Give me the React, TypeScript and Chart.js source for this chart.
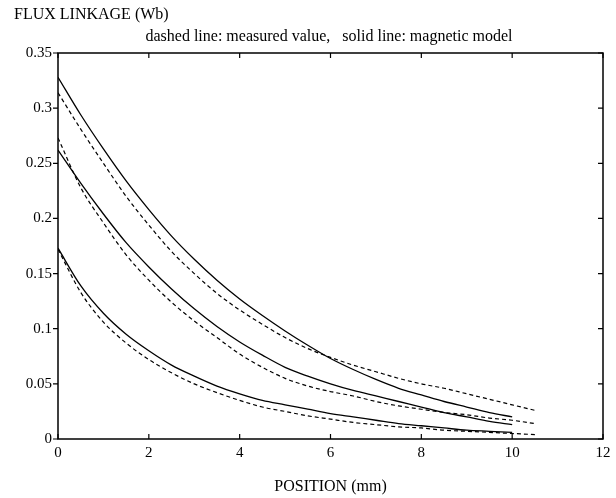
import React, { useEffect, useRef } from "react";
import { Chart, registerables } from "chart.js";

Chart.register(...registerables);

// Positions (mm)
const modelPositions = [0, 0.5, 1, 1.5, 2, 2.5, 3, 3.5, 4, 4.5, 5, 5.5, 6, 6.5, 7, 7.5, 8, 8.5, 9, 9.5, 10];
const measuredPositions = [0, 0.5, 1, 1.5, 2, 2.5, 3, 3.5, 4, 4.5, 5, 5.5, 6, 6.5, 7, 7.5, 8, 8.5, 9, 9.5, 10, 10.5];

// Flux linkage (Wb) - solid lines: magnetic model
const modelHigh = [0.328, 0.294, 0.263, 0.234, 0.208, 0.184, 0.163, 0.144, 0.127, 0.112, 0.098, 0.085, 0.073, 0.063, 0.054, 0.046, 0.040, 0.034, 0.029, 0.024, 0.020];
const modelMid = [0.262, 0.232, 0.204, 0.178, 0.156, 0.136, 0.118, 0.102, 0.088, 0.076, 0.065, 0.057, 0.050, 0.044, 0.039, 0.034, 0.029, 0.024, 0.020, 0.016, 0.013];
const modelLow = [0.173, 0.139, 0.114, 0.095, 0.080, 0.067, 0.057, 0.048, 0.041, 0.035, 0.031, 0.027, 0.023, 0.020, 0.017, 0.014, 0.012, 0.010, 0.008, 0.007, 0.006];

// Flux linkage (Wb) - dashed lines: measured value
const measuredHigh = [0.314, 0.281, 0.250, 0.220, 0.194, 0.170, 0.150, 0.132, 0.117, 0.104, 0.092, 0.082, 0.074, 0.067, 0.061, 0.055, 0.050, 0.046, 0.041, 0.036, 0.031, 0.026];
const measuredMid = [0.273, 0.228, 0.196, 0.167, 0.144, 0.124, 0.107, 0.092, 0.077, 0.065, 0.055, 0.048, 0.043, 0.039, 0.034, 0.030, 0.027, 0.024, 0.022, 0.019, 0.017, 0.014];
const measuredLow = [0.172, 0.133, 0.106, 0.087, 0.072, 0.060, 0.050, 0.042, 0.035, 0.029, 0.025, 0.021, 0.018, 0.015, 0.013, 0.011, 0.010, 0.008, 0.007, 0.006, 0.005, 0.004];

const xTicks = [0, 2, 4, 6, 8, 10, 12];
const xTickLabels = ["0", "2", "4", "6", "8", "10", "12"];
const yTicks = [0, 0.05, 0.1, 0.15, 0.2, 0.25, 0.3, 0.35];
const yTickLabels = ["0", "0.05", "0.1", "0.15", "0.2", "0.25", "0.3", "0.35"];

const yTitle = "FLUX LINKAGE (Wb)";
const subTitle = "dashed line: measured value,   solid line: magnetic model";
const xTitle = "POSITION (mm)";

const FONT = '"Liberation Serif", "DejaVu Serif", serif';

const toPoints = (xs: number[], ys: number[]) => ys.map((y, i) => ({ x: xs[i], y }));

const framePlugin = {
  id: "frame",
  afterDatasetsDraw(chart: any) {
    const { ctx, chartArea: a, scales } = chart;
    ctx.save();
    ctx.strokeStyle = "#000";
    ctx.lineWidth = 1.5;
    ctx.strokeRect(a.left, a.top, a.right - a.left, a.bottom - a.top);
    ctx.lineWidth = 1.2;
    const L = 5;
    ctx.beginPath();
    for (const v of xTicks) {
      const px = scales.x.getPixelForValue(v);
      ctx.moveTo(px, a.bottom);
      ctx.lineTo(px, a.bottom - L);
      ctx.moveTo(px, a.top);
      ctx.lineTo(px, a.top + L);
    }
    for (const v of yTicks) {
      const py = scales.y.getPixelForValue(v);
      ctx.moveTo(a.left - L, py);
      ctx.lineTo(a.left, py);
      ctx.moveTo(a.right, py);
      ctx.lineTo(a.right - L, py);
    }
    ctx.stroke();
    ctx.fillStyle = "#000";
    ctx.font = `16px ${FONT}`;
    ctx.textBaseline = "middle";
    ctx.textAlign = "left";
    ctx.fillText(yTitle, 14, 15);
    ctx.textAlign = "center";
    ctx.fillText(subTitle, 329, 37);
    ctx.restore();
  },
};

export default function App() {
  const ref = useRef<HTMLCanvasElement | null>(null);

  useEffect(() => {
    document.body.style.margin = "0";
    const canvas = ref.current;
    if (!canvas) return;
    const solid = { borderColor: "#000", borderWidth: 1.3, pointRadius: 0, fill: false, tension: 0.4, cubicInterpolationMode: "monotone" as const };
    const dashed = { ...solid, borderWidth: 1.2, borderDash: [4, 3] };
    const chart = new Chart(canvas, {
      type: "line",
      data: {
        datasets: [
          { label: "model high", data: toPoints(modelPositions, modelHigh), ...solid },
          { label: "model mid", data: toPoints(modelPositions, modelMid), ...solid },
          { label: "model low", data: toPoints(modelPositions, modelLow), ...solid },
          { label: "measured high", data: toPoints(measuredPositions, measuredHigh), ...dashed },
          { label: "measured mid", data: toPoints(measuredPositions, measuredMid), ...dashed },
          { label: "measured low", data: toPoints(measuredPositions, measuredLow), ...dashed },
        ],
      },
      options: {
        responsive: false,
        animation: false,
        layout: { padding: { left: 0, right: 13, top: 53, bottom: 0 } },
        plugins: { legend: { display: false }, tooltip: { enabled: false }, title: { display: false } },
        scales: {
          x: {
            type: "linear",
            min: 0,
            max: 12,
            grid: { display: false, drawTicks: false },
            border: { display: false },
            afterBuildTicks: (s: any) => {
              s.ticks = xTicks.map((v) => ({ value: v }));
            },
            afterFit: (s: any) => {
              s.height = 59;
            },
            ticks: {
              padding: 5,
              color: "#000",
              maxRotation: 0,
              font: { family: FONT, size: 15 },
              callback: (v: any) => xTickLabels[xTicks.indexOf(Number(v))] ?? "",
            },
            title: {
              display: true,
              text: xTitle,
              color: "#000",
              font: { family: FONT, size: 16 },
              padding: { top: 0, bottom: 2 },
            },
          },
          y: {
            type: "linear",
            min: 0,
            max: 0.35,
            grid: { display: false, drawTicks: false },
            border: { display: false },
            afterBuildTicks: (s: any) => {
              s.ticks = yTicks.map((v) => ({ value: v }));
            },
            afterFit: (s: any) => {
              s.width = 58;
            },
            ticks: {
              padding: 6,
              color: "#000",
              font: { family: FONT, size: 15 },
              callback: (v: any) => {
                const i = yTicks.findIndex((t) => Math.abs(t - Number(v)) < 1e-9);
                return i >= 0 ? yTickLabels[i] : "";
              },
            },
          },
        },
      },
      plugins: [framePlugin],
    });
    return () => chart.destroy();
  }, []);

  return (
    <div style={{ width: 616, height: 498, background: "#fff" }}>
      <canvas ref={ref} width={616} height={498} />
    </div>
  );
}
